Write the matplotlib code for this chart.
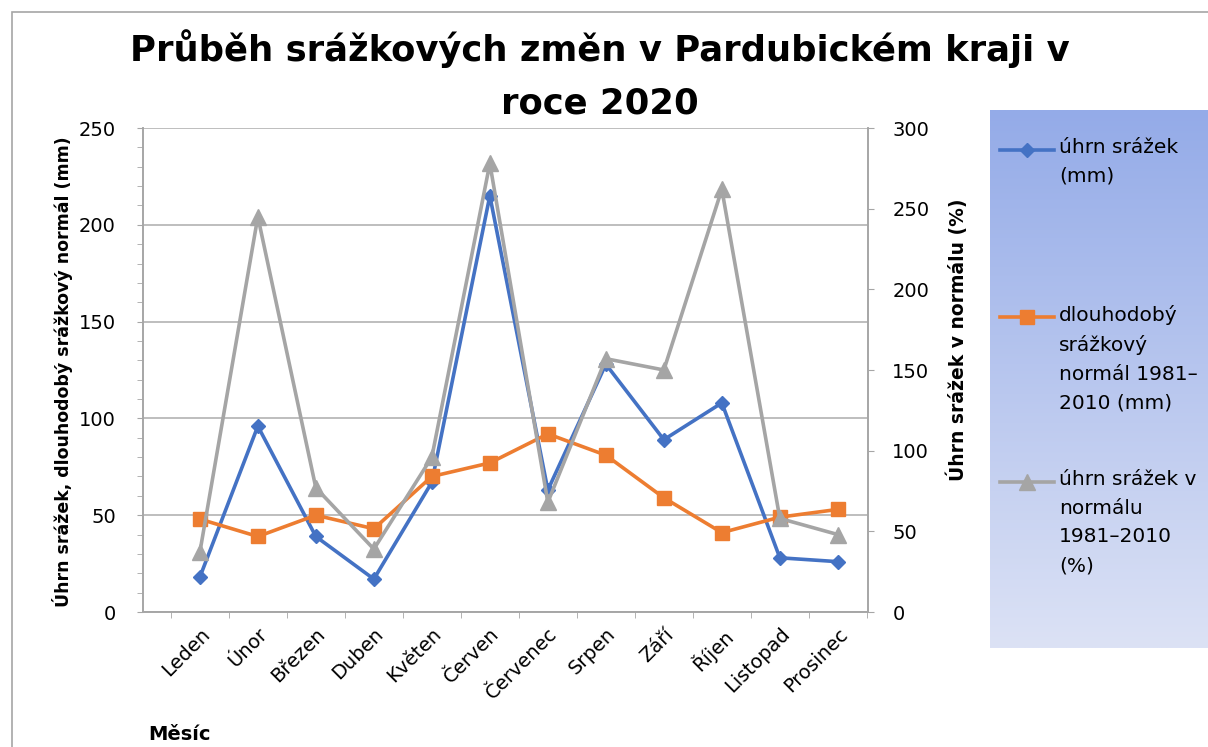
import numpy as np
import matplotlib
matplotlib.use('Agg')
import matplotlib.pyplot as plt
from matplotlib.patches import Rectangle
from matplotlib.lines import Line2D
from matplotlib.ticker import MultipleLocator, FixedLocator

# data
months = ['Leden', 'Únor', 'Březen', 'Duben', 'Květen', 'Červen',
          'Červenec', 'Srpen', 'Září', 'Říjen', 'Listopad', 'Prosinec']
uhrn_mm = [18, 96, 39, 17, 67, 215, 63, 128, 89, 108, 28, 26]
normal_mm = [48, 39, 50, 43, 70, 77, 92, 81, 59, 41, 49, 53]
uhrn_pct = [37, 245, 77, 39, 96, 278, 68, 157, 150, 262, 58, 48]

BLUE = '#4472C4'
ORANGE = '#ED7D31'
GRAY = '#A5A5A5'
AXIS = '#A6A6A6'
GRID = '#B3B3B3'

W, H = 1208, 747
fig = plt.figure(figsize=(W / 100, H / 100), dpi=100)
fig.patch.set_facecolor('white')

# chart border (cut off at right/bottom like the screenshot)
fig.add_artist(Rectangle((12 / W, -0.2), 1.3, (H - 12) / H + 0.2,
                         transform=fig.transFigure, fill=False,
                         edgecolor=AXIS, lw=1.2))

# plot area in pixels: x 143..868, y 128..612
ax = fig.add_axes([143 / W, (H - 612) / H, 725 / W, 484 / H])
ax2 = ax.twinx()

x = np.arange(len(months))
ax.plot(x, uhrn_mm, color=BLUE, lw=2.6, marker='D', ms=7.5,
        markeredgecolor=BLUE, zorder=3)
ax.plot(x, normal_mm, color=ORANGE, lw=2.6, marker='s', ms=10,
        markeredgecolor=ORANGE, zorder=4)
ax2.plot(x, uhrn_pct, color=GRAY, lw=2.6, marker='^', ms=11,
         markeredgecolor=GRAY, zorder=3)

ax.set_xlim(-0.98, 11.52)
ax2.set_xlim(-0.98, 11.52)
ax.set_ylim(0, 250)
ax2.set_ylim(0, 300)

# left axis
ax.yaxis.set_major_locator(MultipleLocator(50))
ax.yaxis.set_minor_locator(MultipleLocator(10))
ax.grid(axis='y', which='major', color=GRID, lw=1.2)
ax.set_axisbelow(True)
ax.tick_params(axis='y', which='both', direction='out', length=4.5,
               color=AXIS, labelsize=14, pad=15)
# right axis
ax2.yaxis.set_major_locator(MultipleLocator(50))
ax2.tick_params(axis='y', direction='out', length=4.5, color=AXIS,
                labelsize=14, pad=13)

# category axis
ax.set_xticks(x)
ax.set_xticklabels(months, rotation=45, ha='right', rotation_mode='anchor',
                   fontsize=14)
ax.xaxis.set_minor_locator(FixedLocator(np.arange(-0.5, 12, 1.0)))
ax.tick_params(axis='x', which='major', length=0, pad=9)
ax.tick_params(axis='x', which='minor', direction='out', length=4.5,
               color=AXIS)

for a in (ax, ax2):
    a.spines['top'].set_visible(False)
    for s in ('left', 'right', 'bottom'):
        a.spines[s].set_color(AXIS)
        a.spines[s].set_linewidth(1.2)
    a.set_facecolor('none')

# titles and labels
fig.text(600 / W, 1 - 49 / H, 'Průběh srážkových změn v Pardubickém kraji v',
         ha='center', va='center', fontsize=25.5, fontweight='bold')
fig.text(600 / W, 1 - 104 / H, 'roce 2020',
         ha='center', va='center', fontsize=25.5, fontweight='bold')
fig.text(63 / W, 1 - 372 / H, 'Úhrn srážek, dlouhodobý srážkový normál (mm)',
         rotation=90, ha='center', va='center', fontsize=12.5,
         fontweight='bold')
fig.text(957 / W, 1 - 340 / H, 'Úhrn srážek v normálu (%)',
         rotation=90, ha='center', va='center', fontsize=13.5,
         fontweight='bold')
fig.text(148 / W, 1 - 735 / H, 'Měsíc', ha='left', va='center',
         fontsize=14, fontweight='bold')

# legend panel with gradient
lx0, ly0, ly1 = 990, 110, 648
lax = fig.add_axes([lx0 / W, (H - ly1) / H, (W - lx0) / W, (ly1 - ly0) / H])
grad = np.linspace(0, 1, 256).reshape(-1, 1)
top = np.array([0x94, 0xAB, 0xE8]) / 255
bot = np.array([0xDC, 0xE2, 0xF5]) / 255
img = top + grad[..., None] * (bot - top)
lax.imshow(img, aspect='auto', extent=[0, 1, 0, 1], origin='upper')
lax.set_xlim(0, 1)
lax.set_ylim(0, 1)
lax.axis('off')

entries = [
    (BLUE, 'D', 7.5, 'úhrn srážek\n(mm)', 150),
    (ORANGE, 's', 10, 'dlouhodobý\nsrážkový\nnormál 1981–\n2010 (mm)', 317),
    (GRAY, '^', 11, 'úhrn srážek v\nnormálu\n1981–2010\n(%)', 482),
]
lw_px = W - lx0
for color, mk, ms, label, ypx in entries:
    yf = (ly1 - ypx) / (ly1 - ly0)
    lax.add_line(Line2D([(1000 - lx0) / lw_px, (1054 - lx0) / lw_px], [yf, yf],
                        color=color, lw=2.6))
    lax.add_line(Line2D([(1027 - lx0) / lw_px], [yf], color=color, marker=mk,
                        ms=ms, markeredgecolor=color))
    lax.text((1059 - lx0) / lw_px, yf + 12 / (ly1 - ly0), label, ha='left',
             va='top', fontsize=14.5, linespacing=1.65)

fig.savefig('out.png', dpi=100)
